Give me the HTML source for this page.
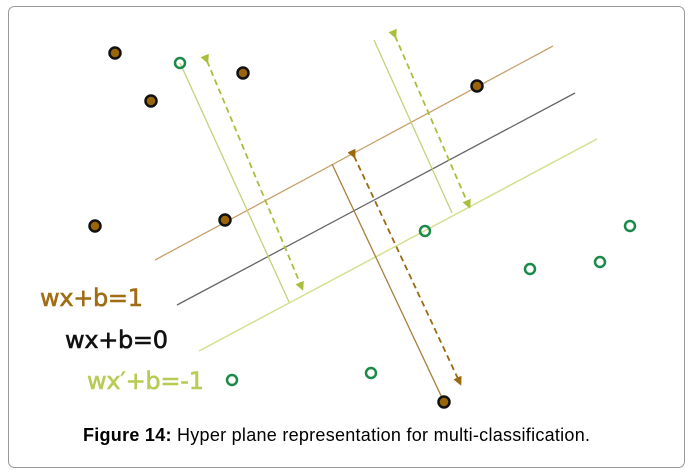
<!DOCTYPE html>
<html><head><style>
body{margin:0;background:#fff;width:691px;height:476px;overflow:hidden}
svg{position:absolute;left:0;top:0}
</style></head><body>
<svg width="691" height="476" viewBox="0 0 691 476">
<defs>
<marker id="ag" markerWidth="9" markerHeight="9" refX="6" refY="4.5" orient="auto" markerUnits="userSpaceOnUse"><path d="M0,0 L9,4.5 L0,9 Z" fill="#a9bf3c"/></marker>
<marker id="ao" markerWidth="9" markerHeight="9" refX="6" refY="4.5" orient="auto" markerUnits="userSpaceOnUse"><path d="M0,0 L9,4.5 L0,9 Z" fill="#9a6a10"/></marker>
</defs>
<rect x="8.5" y="6.5" width="676" height="461" rx="6" fill="#fff" stroke="#999" stroke-width="1"/>
<line x1="155" y1="260" x2="553" y2="46" stroke="#c9a06a" stroke-width="1.3"/>
<line x1="177" y1="305" x2="575" y2="93" stroke="#666" stroke-width="1.3"/>
<line x1="199" y1="351" x2="597" y2="139" stroke="#d3e08e" stroke-width="1.5"/>
<line x1="180" y1="63" x2="289" y2="302" stroke="#c3d27a" stroke-width="1.3"/>
<line x1="374" y1="40" x2="452" y2="213" stroke="#c3d27a" stroke-width="1.3"/>
<line x1="332" y1="164" x2="444" y2="402" stroke="#a77f3c" stroke-width="1.3"/>
<line x1="207" y1="61" x2="302" y2="288" stroke="#a9bf3c" stroke-width="1.8" stroke-dasharray="6,4" marker-start="url(#ag)" marker-end="url(#ag)"/>
<line x1="395" y1="36" x2="469" y2="206" stroke="#a9bf3c" stroke-width="1.8" stroke-dasharray="6,4" marker-start="url(#ag)" marker-end="url(#ag)"/>
<line x1="354" y1="156" x2="460" y2="383" stroke="#9a6a10" stroke-width="1.8" stroke-dasharray="6,4" marker-start="url(#ao)" marker-end="url(#ao)"/>
<g fill="#9a6508" stroke="#111" stroke-width="2.5">
<circle cx="115" cy="53" r="5.5"/><circle cx="151" cy="101" r="5.5"/><circle cx="243" cy="73" r="5.5"/>
<circle cx="95" cy="226" r="5.5"/><circle cx="225" cy="220" r="5.5"/><circle cx="477" cy="86" r="5.5"/><circle cx="444" cy="402" r="5.5"/>
</g>
<g fill="none" stroke="#1a8a4a" stroke-width="2.5">
<circle cx="180" cy="63" r="5"/><circle cx="425" cy="231" r="5"/><circle cx="530" cy="269" r="5"/>
<circle cx="600" cy="262" r="5"/><circle cx="630" cy="226" r="5"/><circle cx="232" cy="380" r="5"/><circle cx="371" cy="373" r="5"/>
</g>
<g font-family="'DejaVu Sans', sans-serif" font-size="24" stroke-width="0.6">
<text x="40" y="306" fill="#a06c14" stroke="#a06c14" textLength="103">wx+b=1</text>
<text x="65" y="348" fill="#111" stroke="#111" textLength="103">wx+b=0</text>
<text x="87" y="389" fill="#b7cb55" stroke="#b7cb55" textLength="117">wx′+b=-1</text>
</g>
<text x="83" y="441" font-family="'Liberation Sans', sans-serif" font-size="18" fill="#000" textLength="507"><tspan font-weight="bold">Figure 14:</tspan> Hyper plane representation for multi-classification.</text>
</svg>
</body></html>
